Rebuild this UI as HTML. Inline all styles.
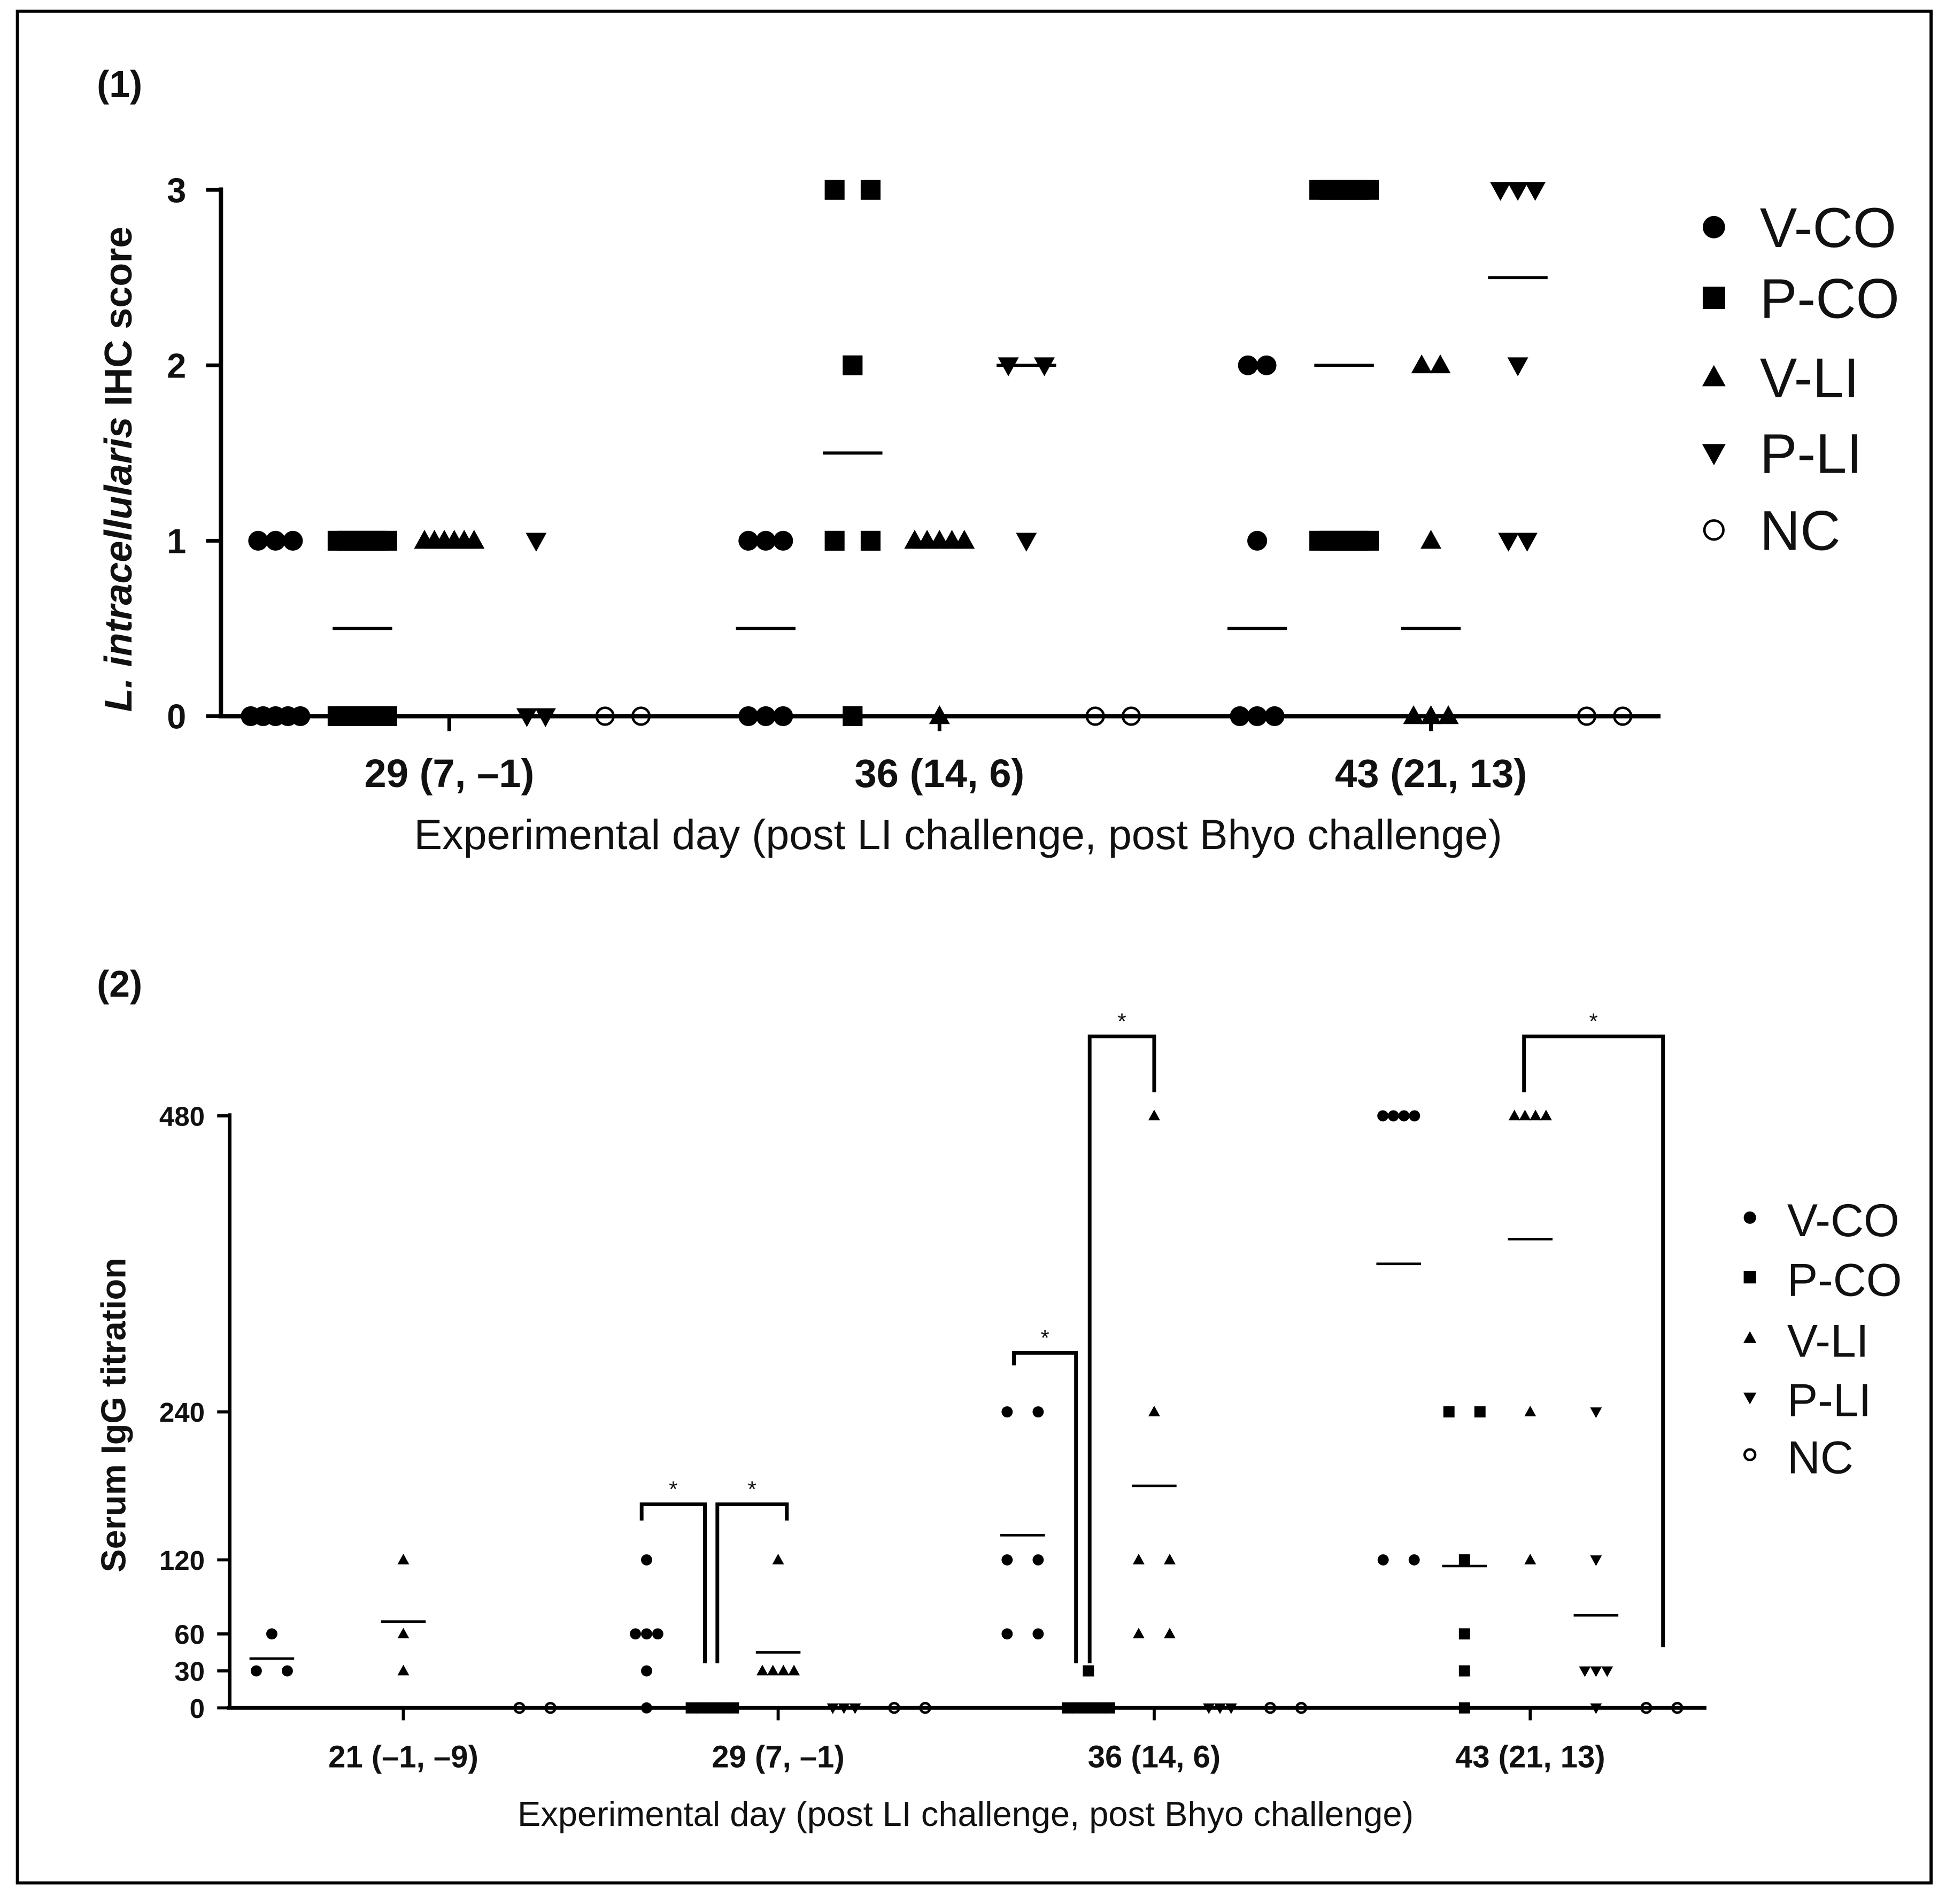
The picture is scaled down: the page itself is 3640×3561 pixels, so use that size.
<!DOCTYPE html>
<html><head><meta charset="utf-8"><style>
html,body{margin:0;padding:0;background:#fff}
svg{display:block}
text{font-family:"Liberation Sans",Arial,sans-serif;fill:#111}
</style></head><body>
<svg id="s" width="3640" height="3561" viewBox="0 0 1568 1534" xmlns="http://www.w3.org/2000/svg">
<rect x="14" y="9" width="1542" height="1508" fill="#fff" stroke="#000" stroke-width="2.5"/>
<g id="c1"></g>
<g id="c2"></g>
</svg>
<script>
// ---- Chart 1 data ----
const days1 = ["29 (7, \u20131)", "36 (14, 6)", "43 (21, 13)"];
const groups = ["V-CO", "P-CO", "V-LI", "P-LI", "NC"];
const yTicks1 = [0, 1, 2, 3];
const ihcVCO = [[1,1,1,0,0,0,0,0],[1,1,1,0,0,0],[2,2,1,0,0,0]];
const ihcPCO = [[1,1,1,1,1,1,0,0,0,0,0,0],[3,3,2,1,1,0],[3,3,3,3,3,3,1,1,1,1,1,1]];
const ihcVLI = [[1,1,1,1,1,1],[1,1,1,1,1,0],[2,2,1,0,0,0]];
const ihcPLI = [[1,0,0],[2,2,1],[3,3,3,2,1,1]];
const ihcNC  = [[0,0],[0,0],[0,0]];
const ihcMeans = [[null,0.5,null,null,null],[0.5,1.5,null,2,null],[0.5,2,0.5,2.5,null]];
// ---- Chart 2 data ----
const days2 = ["21 (\u20131, \u20139)", "29 (7, \u20131)", "36 (14, 6)", "43 (21, 13)"];
const yTicks2 = [0, 30, 60, 120, 240, 480];
const iggVCO = [[60,30,30],[120,60,60,60,30,0],[240,240,120,120,60,60],[480,480,480,480,120,120]];
const iggPCO = [[],[0,0,0,0,0],[30,0,0,0,0,0],[240,240,120,60,30,0]];
const iggVLI = [[120,60,30],[120,30,30,30,30],[480,240,120,120,60,60],[480,480,480,480,240,120]];
const iggPLI = [[],[0,0,0],[0,0,0],[240,120,30,30,30,0]];
const iggNC  = [[0,0],[0,0],[0,0],[0,0]];
const iggMeans = [[40,null,70,null,null],[null,null,45,null,null],[140,null,180,null,null],[360,115,380,75,null]];
const sigDay = [1,1,2,2,3];
const sigFrom = [0,1,0,1,2];
const sigTo = [1,2,1,2,4];

const NS="http://www.w3.org/2000/svg";
function mk(p,tag,a,txt){const e=document.createElementNS(NS,tag);for(const k in a)e.setAttribute(k,a[k]);if(txt!==undefined)e.textContent=txt;p.appendChild(e);return e;}
function marker(p,type,x,y,r){
  let e;
  if(type===0) e=mk(p,"circle",{cx:x,cy:y,r:r,fill:"#000"});
  else if(type===1) e=mk(p,"rect",{x:x-r,y:y-r,width:2*r,height:2*r,fill:"#000"});
  else if(type===2) e=mk(p,"polygon",{points:`${x},${y-r*1.1} ${x-r*1.05},${y+r*0.8} ${x+r*1.05},${y+r*0.8}`,fill:"#000"});
  else if(type===3) e=mk(p,"polygon",{points:`${x},${y+r*1.1} ${x-r*1.05},${y-r*0.8} ${x+r*1.05},${y-r*0.8}`,fill:"#000"});
  else e=mk(p,"circle",{cx:x,cy:y,r:r*0.85,fill:"none",stroke:"#000","stroke-width":2});
  return e;
}
function scatter(p,sets,nDays,xOf,yOf,r,stepFn){
  sets.forEach((set,g)=>{
    for(let d=0;d<nDays;d++){
      const vals=set[d]; const cnt={};
      vals.forEach(v=>cnt[v]=(cnt[v]||0)+1);
      const idx={};
      vals.forEach(v=>{
        idx[v]=(idx[v]||0); const n=cnt[v];
        const step=stepFn(n,g,d);
        const x=xOf(d,g)+(idx[v]-(n-1)/2)*step; idx[v]++;
        const m=marker(p,g,x,yOf(v),r);
        
        
      });
    }
  });
}
// ---- Chart 1 ----
(function(){
  const g=document.getElementById("c1");
  const y0=577,y3=153; const yOf=v=>y0-(y0-y3)*v/3;
  const dayX=[362,757,1153]; const xOf=(d,gi)=>dayX[d]+(gi-2)*70;
  mk(g,"text",{x:78,y:78,"font-size":30,"font-weight":"bold"},"(1)");
  mk(g,"line",{x1:178,y1:y3-2,x2:178,y2:y0+1,stroke:"#000","stroke-width":3.5});
  mk(g,"line",{x1:176,y1:y0,x2:1338,y2:y0,stroke:"#000","stroke-width":3.5});
  yTicks1.forEach(t=>{const y=yOf(t);
    mk(g,"line",{x1:166,y1:y,x2:178,y2:y,stroke:"#000","stroke-width":3});
    const tx=mk(g,"text",{x:150,y:y+10,"font-size":28,"font-weight":"bold","text-anchor":"end"},t);
    });
  days1.forEach((d,i)=>{
    mk(g,"line",{x1:dayX[i],y1:y0,x2:dayX[i],y2:y0+12,stroke:"#000","stroke-width":3});
    const tx=mk(g,"text",{x:dayX[i],y:634,"font-size":32,"font-weight":"bold","text-anchor":"middle"},d);
    });
  mk(g,"text",{x:772,y:684,"font-size":34,"text-anchor":"middle"},"Experimental day (post LI challenge, post Bhyo challenge)");
  const yt=mk(g,"text",{transform:"translate(106,378) rotate(-90)","font-size":31,"font-weight":"bold","text-anchor":"middle"});
  
  mk(yt,"tspan",{"font-style":"italic"},"L. intracellularis");mk(yt,"tspan",{}," IHC score");
  scatter(g,[ihcVCO,ihcPCO,ihcVLI,ihcPLI,ihcNC],3,xOf,yOf,8,(n,gi,d)=>{
    if(n===2) return (gi===4||d===1)?29:15;
    if(n>=4) return 40/(n-1);
    return 14;});
  ihcMeans.forEach((row,d)=>row.forEach((m,gi)=>{if(m===null)return;
    const l=mk(g,"line",{x1:xOf(d,gi)-24,y1:yOf(m),x2:xOf(d,gi)+24,y2:yOf(m),stroke:"#000","stroke-width":2.5});
    }));
  const ly=[183,240,304,365,427];
  groups.forEach((n,i)=>{marker(g,i,1381,ly[i],9);
    const t=mk(g,"text",{x:1418,y:ly[i]+16,"font-size":45},n);});
})();
// ---- Chart 2 ----
(function(){
  const g=document.getElementById("c2");
  const y0=1376,y480=899; const yOf=v=>y0-(y0-y480)*v/480;
  const dayX=[325,627,930,1233]; const xOf=(d,gi)=>dayX[d]+(gi-2)*53;
  mk(g,"text",{x:78,y:803,"font-size":30,"font-weight":"bold"},"(2)");
  mk(g,"line",{x1:185,y1:y480-2,x2:185,y2:y0+1,stroke:"#000","stroke-width":3});
  mk(g,"line",{x1:183,y1:y0,x2:1375,y2:y0,stroke:"#000","stroke-width":3});
  yTicks2.forEach(t=>{const y=yOf(t);
    mk(g,"line",{x1:175,y1:y,x2:185,y2:y,stroke:"#000","stroke-width":2.5});
    const tx=mk(g,"text",{x:165,y:y+8,"font-size":22,"font-weight":"bold","text-anchor":"end"},t);
    });
  days2.forEach((d,i)=>{
    mk(g,"line",{x1:dayX[i],y1:y0,x2:dayX[i],y2:y0+10,stroke:"#000","stroke-width":2.5});
    const tx=mk(g,"text",{x:dayX[i],y:1424,"font-size":25,"font-weight":"bold","text-anchor":"middle"},d);
    });
  mk(g,"text",{x:778,y:1471,"font-size":28,"text-anchor":"middle"},"Experimental day (post LI challenge, post Bhyo challenge)");
  mk(g,"text",{transform:"translate(101,1140) rotate(-90)","font-size":28,"font-weight":"bold","text-anchor":"middle"},"Serum IgG titration");
  scatter(g,[iggVCO,iggPCO,iggVLI,iggPLI,iggNC],4,xOf,yOf,4.5,(n)=>n===2?25:(n>=4?8.5:9));
  iggMeans.forEach((row,d)=>row.forEach((m,gi)=>{if(m===null)return;
    const l=mk(g,"line",{x1:xOf(d,gi)-18,y1:yOf(m),x2:xOf(d,gi)+18,y2:yOf(m),stroke:"#000","stroke-width":2});
    }));
  const offA=[-4,4,-7,1,-5], offB=[-6,7,-10,0,1];
  const tops=[1212,1212,1090,835,835];
  const legA=[1225,1340,1100,1340,880], legB=[1340,1225,1340,880,1327];
  sigDay.forEach((d,i)=>{
    const xa=xOf(d,sigFrom[i])+offA[i],xb=xOf(d,sigTo[i])+offB[i];
    const ytop=tops[i];
    const b=mk(g,"polyline",{points:`${xa},${legA[i]} ${xa},${ytop} ${xb},${ytop} ${xb},${legB[i]}`,fill:"none",stroke:"#000","stroke-width":3});
    
    mk(g,"text",{x:(xa+xb)/2,y:ytop-6,"font-size":18,"text-anchor":"middle"},"*");
  });
  const ly=[983,1031,1080,1128,1174];
  groups.forEach((n,i)=>{marker(g,i,1410,ly[i]-2,5);
    const t=mk(g,"text",{x:1440,y:ly[i]+13,"font-size":37},n);});
})();
</script>
</body></html>
